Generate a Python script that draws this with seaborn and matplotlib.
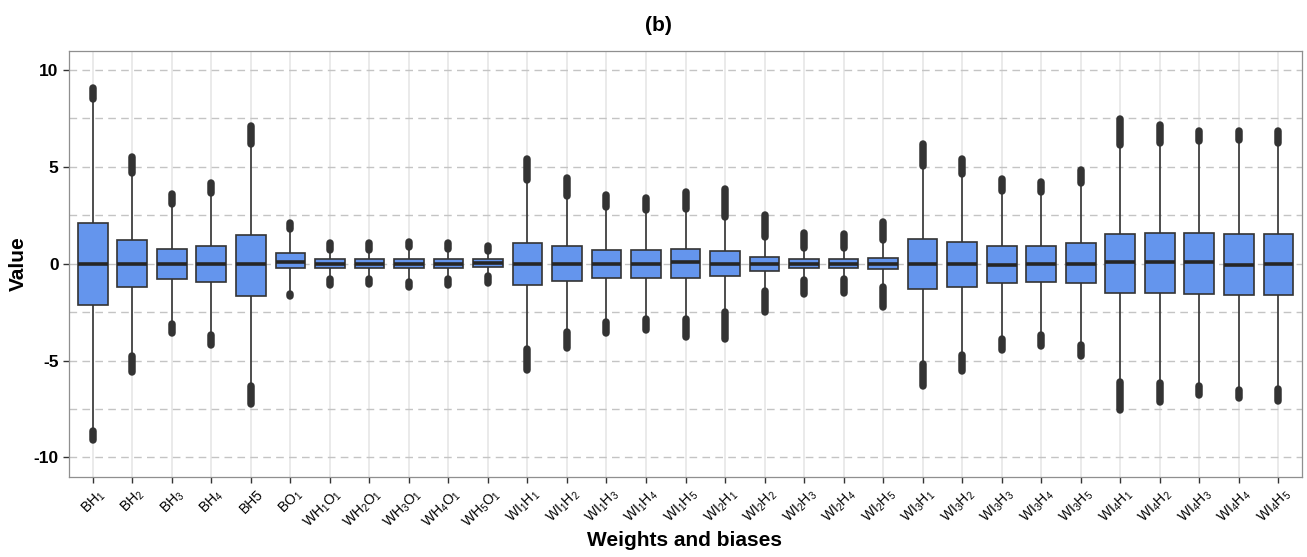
import numpy as np
import pandas as pd
import matplotlib
matplotlib.use("Agg")
import matplotlib.pyplot as plt
import matplotlib.transforms as mtransforms
from matplotlib.ticker import MultipleLocator
import seaborn as sns

# parameter names (categories) and their display labels
params = ["BH1", "BH2", "BH3", "BH4", "BH5", "BO1",
          "WH1O1", "WH2O1", "WH3O1", "WH4O1", "WH5O1",
          "WI1H1", "WI1H2", "WI1H3", "WI1H4", "WI1H5",
          "WI2H1", "WI2H2", "WI2H3", "WI2H4", "WI2H5",
          "WI3H1", "WI3H2", "WI3H3", "WI3H4", "WI3H5",
          "WI4H1", "WI4H2", "WI4H3", "WI4H4", "WI4H5"]
tick_labels = [r"BH$_1$", r"BH$_2$", r"BH$_3$", r"BH$_4$", "BH5", r"BO$_1$",
               r"WH$_1$O$_1$", r"WH$_2$O$_1$", r"WH$_3$O$_1$", r"WH$_4$O$_1$", r"WH$_5$O$_1$",
               r"WI$_1$H$_1$", r"WI$_1$H$_2$", r"WI$_1$H$_3$", r"WI$_1$H$_4$", r"WI$_1$H$_5$",
               r"WI$_2$H$_1$", r"WI$_2$H$_2$", r"WI$_2$H$_3$", r"WI$_2$H$_4$", r"WI$_2$H$_5$",
               r"WI$_3$H$_1$", r"WI$_3$H$_2$", r"WI$_3$H$_3$", r"WI$_3$H$_4$", r"WI$_3$H$_5$",
               r"WI$_4$H$_1$", r"WI$_4$H$_2$", r"WI$_4$H$_3$", r"WI$_4$H$_4$", r"WI$_4$H$_5$"]

# five-number summaries
whis_lo = [-8.64, -4.77, -3.13, -3.70, -6.31, -1.58,
           -0.81, -0.81, -0.95, -0.81, -0.64,
           -4.39, -3.53, -2.99, -2.84, -2.84,
           -2.49, -1.43, -0.86, -0.81, -1.22,
           -5.16, -4.70, -3.90, -3.70, -4.20,
           -6.11, -6.18, -6.31, -6.54, -6.45]
q1 = [-2.13, -1.22, -0.81, -0.93, -1.65, -0.24,
      -0.24, -0.24, -0.24, -0.24, -0.16,
      -1.10, -0.88, -0.74, -0.74, -0.74,
      -0.65, -0.38, -0.24, -0.24, -0.29,
      -1.29, -1.22, -0.98, -0.93, -0.98,
      -1.50, -1.50, -1.57, -1.64, -1.64]
med = [0.00, 0.00, 0.00, 0.00, 0.00, 0.09,
       0.00, 0.00, 0.00, 0.00, 0.02,
       0.00, 0.00, 0.00, 0.00, 0.09,
       0.00, 0.00, 0.00, 0.00, 0.00,
       0.00, 0.00, -0.09, 0.00, 0.00,
       0.09, 0.09, 0.09, -0.09, 0.00]
q3 = [2.12, 1.20, 0.77, 0.91, 1.50, 0.57,
      0.22, 0.22, 0.22, 0.22, 0.22,
      1.05, 0.91, 0.71, 0.71, 0.77,
      0.64, 0.36, 0.22, 0.22, 0.29,
      1.26, 1.12, 0.91, 0.91, 1.05,
      1.55, 1.60, 1.60, 1.55, 1.55]
whis_hi = [8.52, 4.66, 3.06, 3.63, 6.16, 1.81,
           0.73, 0.73, 0.87, 0.77, 0.65,
           4.32, 3.49, 2.92, 2.77, 2.84,
           2.42, 1.39, 0.82, 0.79, 1.22,
           5.04, 4.61, 3.75, 3.70, 4.18,
           6.11, 6.25, 6.33, 6.38, 6.25]
# extreme outliers
out_min = [-9.11, -5.60, -3.56, -4.20, -7.23, -1.67,
           -1.12, -1.07, -1.19, -1.12, -0.98,
           -5.49, -4.36, -3.56, -3.43, -3.77,
           -3.91, -2.50, -1.59, -1.52, -2.24,
           -6.32, -5.54, -4.48, -4.25, -4.77,
           -7.58, -7.14, -6.80, -6.96, -7.09]
out_max = [9.09, 5.53, 3.58, 4.15, 7.11, 2.08,
           1.05, 1.05, 1.12, 1.05, 0.91,
           5.39, 4.41, 3.53, 3.38, 3.72,
           3.87, 2.53, 1.60, 1.55, 2.15,
           6.20, 5.39, 4.36, 4.22, 4.84,
           7.49, 7.14, 6.85, 6.85, 6.85]

rows = []
for i, p in enumerate(params):
    for v in (whis_lo[i], q1[i], med[i], q3[i], whis_hi[i]):
        rows.append((p, v))
df = pd.DataFrame(rows, columns=["param", "value"])

sns.set_theme(style="ticks")
plt.rcParams["font.family"] = ["Liberation Sans", "DejaVu Sans"]
plt.rcParams["mathtext.fontset"] = "custom"
plt.rcParams["mathtext.rm"] = "Liberation Sans"
plt.rcParams["mathtext.it"] = "Liberation Sans:italic"
plt.rcParams["mathtext.bf"] = "Liberation Sans:bold"
plt.rcParams["axes.unicode_minus"] = False
plt.rcParams["lines.scale_dashes"] = False
plt.rcParams["text.color"] = "black"
plt.rcParams["xtick.labelcolor"] = "black"
plt.rcParams["ytick.labelcolor"] = "black"

fig, ax = plt.subplots(figsize=(13.07, 5.57), dpi=100)
fig.subplots_adjust(left=0.0528, right=0.9962, top=0.909, bottom=0.1442)

line_col = "#333333"
sns.boxplot(data=df, x="param", y="value", order=params, ax=ax,
            whis=(0, 100), width=0.75, color="#6495ED", saturation=1,
            linecolor=line_col, linewidth=1.2, showfliers=False,
            showcaps=False,
            medianprops=dict(color="#262626", linewidth=2.6))

# outliers: dense runs of points drawn as thick rounded strokes
pos = np.arange(len(params))
for lo, hi in ((whis_hi, out_max), (out_min, whis_lo)):
    lc = ax.vlines(pos, lo, hi, colors=line_col, linewidth=5.4, zorder=3)
    lc.set_capstyle("round")

ax.set_xlim(-0.6, len(params) - 0.4)
ax.set_ylim(-11, 11)
ax.set_yticks([-10, -5, 0, 5, 10])
ax.yaxis.set_minor_locator(MultipleLocator(2.5))
ax.set_yticklabels(["-10", "-5", "0", "5", "10"], fontsize=12.5,
                   fontweight="bold", color="black")

ax.set_axisbelow(True)
ax.xaxis.grid(True, color="#e6e6e6", linewidth=1.2, linestyle="-")
ax.yaxis.grid(True, which="both", color="#c4c4c4", linewidth=1.0,
              linestyle=(0, (5.5, 3.8)))
ax.tick_params(axis="both", which="major", length=4, width=1, color=line_col)
ax.tick_params(axis="y", which="minor", length=0)

ax.set_xticks(pos)
ax.set_xticklabels(tick_labels, rotation=45, ha="right", va="center",
                   rotation_mode="anchor", fontsize=10, color="black")
offset = mtransforms.ScaledTranslation(10 / 100, -5 / 100, fig.dpi_scale_trans)
for lbl in ax.get_xticklabels():
    lbl.set_transform(lbl.get_transform() + offset)

for sp in ax.spines.values():
    sp.set_visible(True)
    sp.set_color("#8f8f8f")
    sp.set_linewidth(0.9)

ax.set_xlabel("")
ax.set_ylabel("")
fig.text(0.0142, 0.526, "Value", rotation=90, ha="center", va="center",
         fontsize=15, fontweight="bold", color="black")
fig.text(0.524, 0.029, "Weights and biases", ha="center", va="center",
         fontsize=15, fontweight="bold", color="black")
fig.text(0.504, 0.955, "(b)", ha="center", va="center",
         fontsize=15, fontweight="bold", color="black")

fig.savefig("out.png", dpi=100)
